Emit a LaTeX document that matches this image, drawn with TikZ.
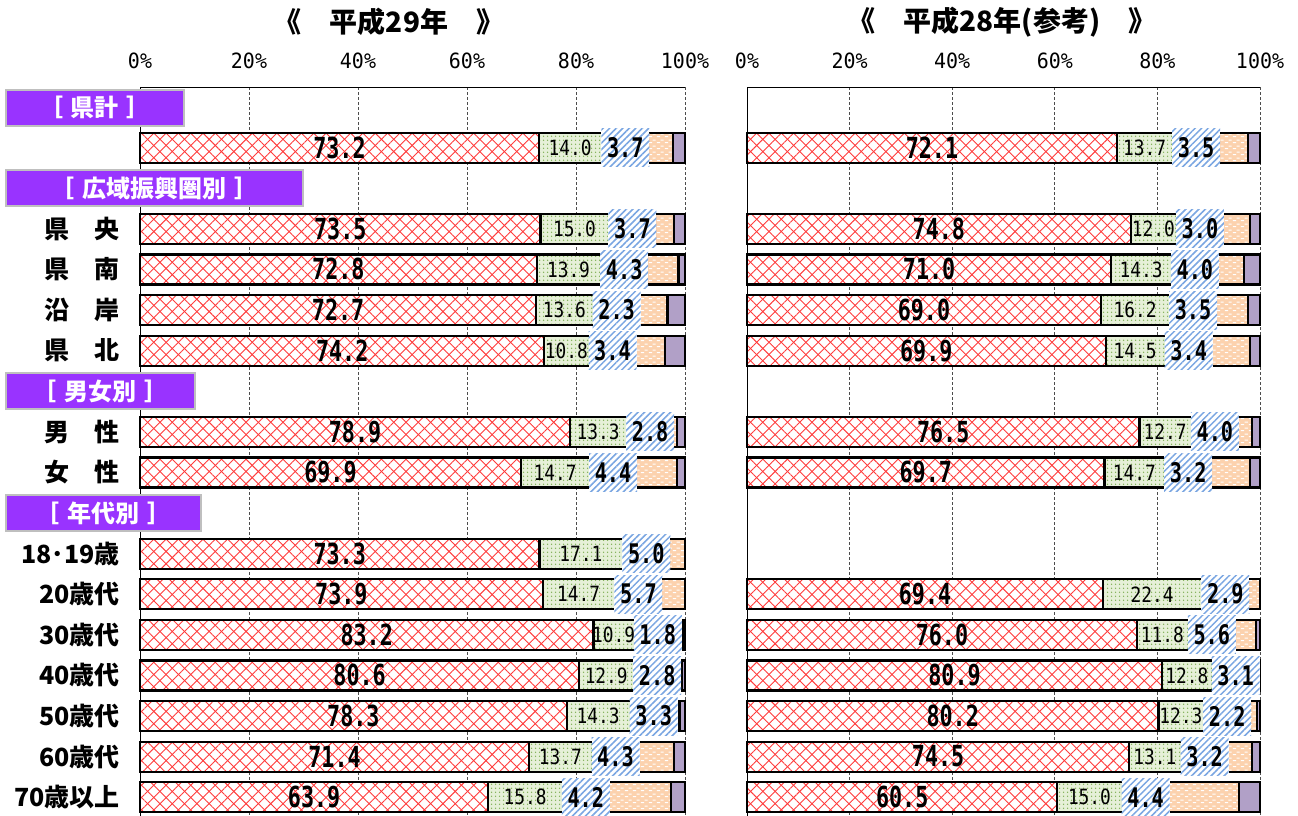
\documentclass[tikz,border=0pt]{standalone}
\usepackage{fontspec}
\setmainfont{Noto Sans CJK JP}
\newfontfamily\numfont{DejaVu Sans Mono}[FakeStretch=0.75]
\newfontfamily\smallnumfont{DejaVu Sans Mono}[FakeStretch=0.85]
\newfontfamily\tickfont{DejaVu Sans Mono}[FakeStretch=0.95]
\usetikzlibrary{patterns.meta}
\definecolor{hdrpurple}{HTML}{9933FF}
\definecolor{hdrgray}{HTML}{BFBFBF}
\definecolor{xred}{HTML}{FF3B3B}
\definecolor{dotgreen}{HTML}{7FAF55}
\definecolor{greenbg}{HTML}{E6F0D8}
\definecolor{hatchblue}{HTML}{7AA6E2}
\definecolor{peach}{HTML}{FCD2AE}
\definecolor{lilac}{HTML}{B1A0C7}
\tikzdeclarepattern{
  name=peachdash,
  type=uncolored,
  bounding box={(0pt,0pt) and (8pt,6pt)},
  tile size={(8pt,6pt)},
  code={
    \draw[line width=1.1pt] (1pt,1.5pt) -- (4.5pt,1.5pt);
    \draw[line width=1.1pt] (5pt,4.5pt) -- (8.5pt,4.5pt);
  }
}
% one bar: (left x : width : centre y)(red : green : blue : start of lilac)
\def\chartrow(#1:#2:#3)(#4:#5:#6:#7){%
  \pgfmathsetmacro\xr{#1+#2/100*#4}%
  \pgfmathsetmacro\xg{#1+#2/100*(#4+#5)}%
  \pgfmathsetmacro\xb{#1+#2/100*(#4+#5+#6)}%
  \pgfmathsetmacro\xp{#1+#2/100*#7}%
  \pgfmathsetmacro\xe{#1+#2}%
  \pgfmathsetmacro\xc{(\xg+\xb)/2}%
  \pgfmathsetmacro\xgl{(\xr+min(\xg,\xc-24))/2}%
  \fill[white] (#1,#3-15) rectangle (\xr,#3+15);
  \fill[pattern={Lines[angle=45,distance=8.7pt,line width=0.9pt]},pattern color=xred] (#1,#3-15) rectangle (\xr,#3+15);
  \fill[pattern={Lines[angle=-45,distance=8.7pt,line width=0.9pt]},pattern color=xred] (#1,#3-15) rectangle (\xr,#3+15);
  \draw[seg] (#1,#3-15) rectangle (\xr,#3+15);
  \fill[greenbg] (\xr,#3-15) rectangle (\xg,#3+15);
  \fill[pattern={Dots[radius=0.9pt,distance=4pt]},pattern color=dotgreen] (\xr,#3-15) rectangle (\xg,#3+15);
  \draw[seg] (\xr,#3-15) rectangle (\xg,#3+15);
  \fill[peach] (\xb,#3-15) rectangle (\xp,#3+15);
  \fill[pattern=peachdash,pattern color=white] (\xb,#3-15) rectangle (\xp,#3+15);
  \draw[seg] (\xb,#3-15) rectangle (\xp,#3+15);
  \draw[seg,fill=lilac] (\xp,#3-15) rectangle (\xe,#3+15);
  \fill[white] (\xc-24,#3-19) rectangle (\xc+24,#3+19);
  \fill[pattern={Lines[angle=45,distance=4.6pt,line width=1.5pt]},pattern color=hatchblue] (\xc-24,#3-19) rectangle (\xc+24,#3+19);
  \node[redlbl] at ({(#1+\xr)/2},#3) {#4};
  \node[greenlbl] at (\xgl,#3) {#5};
  \node[bluelbl] at (\xc,#3) {#6};
}

\begin{document}
\begin{tikzpicture}[x=1pt,y=-1pt,
  seg/.style={draw=black,line width=2.2pt},
  grid/.style={draw=black!70,line width=0.7pt,dash pattern=on 2.5pt off 2.5pt},
  redlbl/.style={inner sep=0pt,font=\numfont\bfseries\fontsize{29}{29}\selectfont},
  bluelbl/.style={inner sep=0pt,font=\numfont\bfseries\fontsize{27}{27}\selectfont},
  greenlbl/.style={inner sep=0pt,font=\smallnumfont\fontsize{21}{21}\selectfont},
  ticklbl/.style={inner sep=0pt,font=\tickfont\fontsize{21}{21}\selectfont},
  rowlbl/.style={anchor=east,inner sep=0pt,font=\bfseries\fontsize{25}{25}\selectfont},
  hdrbox/.style={anchor=west,fill=hdrpurple,draw=hdrgray,line width=2pt,text=white,
    minimum height=36pt,inner sep=0pt,font=\bfseries\fontsize{24}{24}\selectfont},
  title/.style={font=\bfseries\fontsize{28}{28}\selectfont}]
  %%%%% START %%%%%
  \useasboundingbox (0,0) rectangle (1298,816);
  \fill[white] (0,0) rectangle (1298,816);

  \node[title] (t29) at (389,22) {《　平成29年　》};
  \node[title] (t28) at (1002,22) {《　平成28年(参考)　》};

  % frames and grid
  \foreach \i in {1,...,5} {
    \draw[grid] (140+109*\i,87) -- (140+109*\i,816);
    \draw[grid] (747+102.6*\i,87) -- (747+102.6*\i,816);
  }
  \draw[black,line width=1pt] (140,816) -- (140,87) -- (685,87);
  \draw[black,line width=1pt] (747,816) -- (747,87) -- (1260,87);
  \foreach \i in {0,...,5} {
    \pgfmathtruncatemacro\pc{20*\i}
    \node[ticklbl] at (140+109*\i,61) {\pc\%};
    \node[ticklbl] at (747+102.6*\i,61) {\pc\%};
  }

  % headers
  \node[hdrbox,minimum width=178pt] (hken) at (5,107.5) {［\hspace{8pt}県計\hspace{8pt}］};
  \node[hdrbox,minimum width=297pt] (hkoiki) at (5,188.2) {［\hspace{8pt}広域振興圏別\hspace{8pt}］};
  \node[hdrbox,minimum width=189pt] (hsex) at (5,391) {［\hspace{8pt}男女別\hspace{8pt}］};
  \node[hdrbox,minimum width=195pt] (hage) at (5,513) {［\hspace{8pt}年代別\hspace{8pt}］};

  % row labels
  \node[rowlbl] (r3) at (120,228.8) {県　央};
  \node[rowlbl] (r4) at (120,269.4) {県　南};
  \node[rowlbl] (r5) at (120,310) {沿　岸};
  \node[rowlbl] (r6) at (120,350.6) {県　北};
  \node[rowlbl] (r8) at (120,431.8) {男　性};
  \node[rowlbl] (r9) at (120,472.4) {女　性};
  \node[rowlbl] (r11) at (120,553.6) {18･19歳};
  \node[rowlbl] (r12) at (120,594.2) {20歳代};
  \node[rowlbl] (r13) at (120,634.8) {30歳代};
  \node[rowlbl] (r14) at (120,675.4) {40歳代};
  \node[rowlbl] (r15) at (120,716) {50歳代};
  \node[rowlbl] (r16) at (120,756.6) {60歳代};
  \node[rowlbl] (r17) at (120,797.2) {70歳以上};

  % H29
  \chartrow(140:545:147.6)(73.2:14.0:3.7:97.8)
  \chartrow(140:545:228.8)(73.5:15.0:3.7:98.0)
  \chartrow(140:545:269.4)(72.8:13.9:4.3:98.8)
  \chartrow(140:545:310)(72.7:13.6:2.3:96.8)
  \chartrow(140:545:350.6)(74.2:10.8:3.4:96.3)
  \chartrow(140:545:431.8)(78.9:13.3:2.8:98.6)
  \chartrow(140:545:472.4)(69.9:14.7:4.4:98.6)
  \chartrow(140:545:553.6)(73.3:17.1:5.0:100)
  \chartrow(140:545:594.2)(73.9:14.7:5.7:100)
  \chartrow(140:545:634.8)(83.2:10.9:1.8:99.6)
  \chartrow(140:545:675.4)(80.6:12.9:2.8:99.4)
  \chartrow(140:545:716)(78.3:14.3:3.3:99.0)
  \chartrow(140:545:756.6)(71.4:13.7:4.3:98.0)
  \chartrow(140:545:797.2)(63.9:15.8:4.2:97.4)

  % H28
  \chartrow(747:513:147.6)(72.1:13.7:3.5:97.7)
  \chartrow(747:513:228.8)(74.8:12.0:3.0:98.0)
  \chartrow(747:513:269.4)(71.0:14.3:4.0:96.9)
  \chartrow(747:513:310)(69.0:16.2:3.5:97.7)
  \chartrow(747:513:350.6)(69.9:14.5:3.4:98.0)
  \chartrow(747:513:431.8)(76.5:12.7:4.0:98.4)
  \chartrow(747:513:472.4)(69.7:14.7:3.2:98.0)
  \chartrow(747:513:594.2)(69.4:22.4:2.9:100)
  \chartrow(747:513:634.8)(76.0:11.8:5.6:99.2)
  \chartrow(747:513:675.4)(80.9:12.8:3.1:99.8)
  \chartrow(747:513:716)(80.2:12.3:2.2:99.4)
  \chartrow(747:513:756.6)(74.5:13.1:3.2:98.4)
  \chartrow(747:513:797.2)(60.5:15.0:4.4:95.9)

  %%%%% END %%%%%
\end{tikzpicture}
\end{document}
